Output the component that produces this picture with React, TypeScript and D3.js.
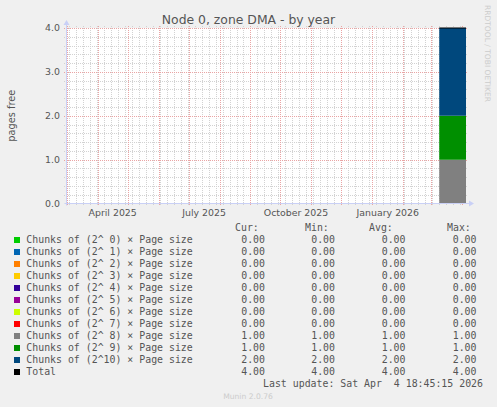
import React from "react";
import * as d3 from "d3";

const WIDTH = 497;
const HEIGHT = 407;

// graph window: munin "by year" = 400 days ending at last update
const END_TIME = new Date("2026-04-04T18:45:15Z");
const START_TIME = new Date(END_TIME.getTime() - 400 * 24 * 3600 * 1000);

// samples that exist in the rrd (data only starts early March 2026)
const sampleDates = ["2026-03-09T00:00:00Z", "2026-04-04T18:45:15Z"];

const seriesNames = [
  "Chunks of (2^ 0) × Page size",
  "Chunks of (2^ 1) × Page size",
  "Chunks of (2^ 2) × Page size",
  "Chunks of (2^ 3) × Page size",
  "Chunks of (2^ 4) × Page size",
  "Chunks of (2^ 5) × Page size",
  "Chunks of (2^ 6) × Page size",
  "Chunks of (2^ 7) × Page size",
  "Chunks of (2^ 8) × Page size",
  "Chunks of (2^ 9) × Page size",
  "Chunks of (2^10) × Page size",
];
const seriesColors = [
  "#00cc00", "#0066b3", "#ff8000", "#ffcc00", "#330099", "#990099",
  "#ccff00", "#ff0000", "#808080", "#008f00", "#00487d",
];
const seriesValues = [
  [0, 0], [0, 0], [0, 0], [0, 0], [0, 0], [0, 0],
  [0, 0], [0, 0], [1, 1], [1, 1], [2, 2],
];
const totalValues = [4, 4];

// legend statistics: Cur, Min, Avg, Max
const curValues = [0, 0, 0, 0, 0, 0, 0, 0, 1, 1, 2, 4];
const minValues = [0, 0, 0, 0, 0, 0, 0, 0, 1, 1, 2, 4];
const avgValues = [0, 0, 0, 0, 0, 0, 0, 0, 1, 1, 2, 4];
const maxValues = [0, 0, 0, 0, 0, 0, 0, 0, 1, 1, 2, 4];

const yTicks = [0, 1, 2, 3, 4];
const xLabelMonths = ["2025-04-01", "2025-07-01", "2025-10-01", "2026-01-01"];

const TITLE = "Node 0, zone DMA - by year";
const Y_LABEL = "pages free";
const LAST_UPDATE = "Last update: Sat Apr  4 18:45:15 2026";

const FONT = "'DejaVu Sans', sans-serif";
const MONO = "'DejaVu Sans Mono', monospace";
const TEXT = "#555555";

export default function App() {
  const left = 66.5;
  const right = 466;
  const top = 28;
  const bottom = 203.5;

  const x = d3.scaleUtc().domain([START_TIME, END_TIME]).range([left, right]);
  const y = d3.scaleLinear().domain([0, 4]).range([bottom, top]);

  const rows = sampleDates.map((d, i) => {
    const row: any = { date: new Date(d) };
    seriesValues.forEach((vals, k) => (row["s" + k] = vals[i]));
    return row;
  });
  const keys = seriesValues.map((_, k) => "s" + k);
  const stacked = d3.stack().keys(keys)(rows);

  const area = d3
    .area<any>()
    .x((d) => x(d.data.date))
    .y0((d) => y(d[0]))
    .y1((d) => y(d[1]))
    .curve(d3.curveStepAfter);

  const totalLine = d3
    .line<number>()
    .x((_, i) => x(new Date(sampleDates[i])))
    .y((v) => y(v))
    .curve(d3.curveStepAfter);

  const majorX = d3.utcMonth.range(START_TIME, END_TIME);
  const majorSet = new Set(majorX.map((d) => +d));
  const minorX = d3.utcMonday.range(START_TIME, END_TIME).filter((d) => !majorSet.has(+d));
  const minorY = d3.range(0, 4.0001, 0.2).filter((v) => Math.abs(v - Math.round(v)) > 1e-6);

  const fmtMonth = d3.utcFormat("%B %Y");
  const fmt2 = d3.format(".2f");

  const gridMinor = "#d2d2d2";
  const gridMajor = "#eaa4a4";
  const axisColor = "#c9d0f6";

  // grid lines start on whole pixels so the 1-on/1-off dots stay crisp
  const gx0 = Math.floor(left) - 2;
  const gx1 = Math.ceil(right) + 2;
  const gy0 = Math.floor(top) - 2;
  const gy1 = Math.ceil(bottom) + 2;
  const px = (v: number) => Math.round(v) + 0.5;

  const legendY0 = 243.3;
  const rowH = 12;
  const legendNames = [...seriesNames, "Total"];
  const legendColors = [...seriesColors, "#000000"];

  return (
    <svg
      width={WIDTH}
      height={HEIGHT}
      style={{ position: "absolute", left: 0, top: 0, background: "#f0f0f0" }}
    >
      <rect x={0} y={0} width={WIDTH} height={HEIGHT} fill="#f0f0f0" />
      <rect x={left} y={top} width={right - left} height={bottom - top} fill="#ffffff" />

      {/* minor grid */}
      <g stroke={gridMinor} strokeWidth={1} strokeDasharray="1,1" shapeRendering="crispEdges">
        {minorY.map((v) => (
          <line key={"my" + v} x1={gx0} x2={gx1} y1={px(y(v))} y2={px(y(v))} />
        ))}
        {minorX.map((d) => (
          <line key={"mx" + +d} x1={px(x(d))} x2={px(x(d))} y1={gy0} y2={gy1} />
        ))}
      </g>
      {/* major grid */}
      <g stroke={gridMajor} strokeWidth={1} strokeDasharray="1,1" shapeRendering="crispEdges">
        {yTicks.slice(1).map((v) => (
          <line key={"My" + v} x1={gx0} x2={gx1} y1={px(y(v))} y2={px(y(v))} />
        ))}
        {majorX.map((d) => (
          <line key={"Mx" + +d} x1={px(x(d))} x2={px(x(d))} y1={gy0} y2={gy1} />
        ))}
      </g>

      {/* stacked areas */}
      {stacked.map((s, k) => (
        <path key={s.key} d={area(s as any) || ""} fill={seriesColors[k]} />
      ))}
      <path d={totalLine(totalValues) || ""} fill="none" stroke="#000000" strokeWidth={1} />

      {/* axes */}
      <line x1={left} x2={left} y1={bottom + 2} y2={top - 4} stroke={axisColor} strokeWidth={1} />
      <line x1={left - 2} x2={right + 4} y1={bottom} y2={bottom} stroke={axisColor} strokeWidth={1} />
      <path d={`M${left - 3},${top - 3} L${left + 3},${top - 3} L${left},${top - 8} Z`} fill={axisColor} />
      <path d={`M${right + 3},${bottom - 3} L${right + 3},${bottom + 3} L${right + 8},${bottom} Z`} fill={axisColor} />

      {/* y tick labels */}
      {yTicks.map((v) => (
        <text key={"yt" + v} x={60} y={y(v)} dy="0.36em" textAnchor="end" fontFamily={FONT} fontSize={9.4} fill={TEXT}>
          {v.toFixed(1)}
        </text>
      ))}

      {/* x labels, centred mid-month */}
      {xLabelMonths.map((m) => {
        const d = new Date(m + "T00:00:00Z");
        const mid = new Date((+d + +d3.utcMonth.offset(d, 1)) / 2);
        return (
          <text key={m} x={x(mid)} y={215.5} textAnchor="middle" fontFamily={FONT} fontSize={9.4} fill={TEXT}>
            {fmtMonth(d)}
          </text>
        );
      })}

      {/* title + axis label */}
      <text x={248.5} y={23.5} textAnchor="middle" fontFamily={FONT} fontSize={12.4} fill={TEXT}>
        {TITLE}
      </text>
      <text
        transform={`translate(15,${(top + bottom) / 2}) rotate(-90)`}
        textAnchor="middle"
        fontFamily={FONT}
        fontSize={9.8}
        fill={TEXT}
      >
        {Y_LABEL}
      </text>
      <text
        transform="translate(485,5) rotate(90)"
        fontFamily={FONT}
        fontSize={7.6}
        fill="#cccccc"
        textLength={97}
        lengthAdjust="spacingAndGlyphs"
      >
        RRDTOOL / TOBI OETIKER
      </text>

      {/* legend header */}
      <g fontFamily={MONO} fontSize={9.9} fill={TEXT}>
        <text x={235} y={231}>Cur:</text>
        <text x={305} y={231}>Min:</text>
        <text x={369} y={231}>Avg:</text>
        <text x={447} y={231}>Max:</text>
      </g>

      {/* legend rows */}
      {legendNames.map((name, i) => {
        const by = legendY0 + i * rowH;
        return (
          <g key={name} fontFamily={MONO} fontSize={9.9} fill={TEXT}>
            <rect x={14} y={by - 6.3} width={6} height={6} fill={legendColors[i]} />
            <text x={26.3} y={by} style={{ whiteSpace: "pre" }}>{name}</text>
            <text x={265} y={by} textAnchor="end">{fmt2(curValues[i])}</text>
            <text x={335} y={by} textAnchor="end">{fmt2(minValues[i])}</text>
            <text x={405.5} y={by} textAnchor="end">{fmt2(avgValues[i])}</text>
            <text x={476.5} y={by} textAnchor="end">{fmt2(maxValues[i])}</text>
          </g>
        );
      })}

      <text x={483} y={legendY0 + 12 * rowH} textAnchor="end" fontFamily={MONO} fontSize={9.9} fill={TEXT} style={{ whiteSpace: "pre" }}>
        {LAST_UPDATE}
      </text>
      <text x={248} y={399} textAnchor="middle" fontFamily={FONT} fontSize={7.6} fill="#cccccc">
        Munin 2.0.76
      </text>
    </svg>
  );
}
